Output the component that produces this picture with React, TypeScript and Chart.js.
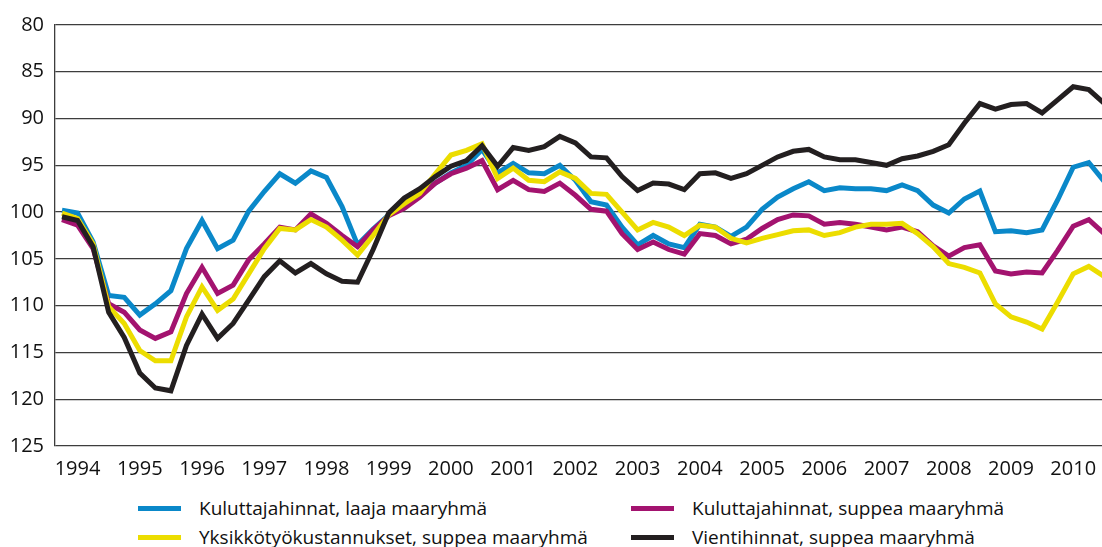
import React, { useEffect, useRef } from "react";
import { Chart, registerables } from "chart.js";

Chart.register(...registerables);

// Quarterly observations, 1994 Q1 – 2010 Q4 (index 0 = 1994 Q1)
const yearLabels = [
  "1994", "1995", "1996", "1997", "1998", "1999", "2000", "2001", "2002",
  "2003", "2004", "2005", "2006", "2007", "2008", "2009", "2010",
];

const yTicks = [80, 85, 90, 95, 100, 105, 110, 115, 120, 125];

const kuluttajaLaaja = [
  99.8, 100.1, 103.2, 108.9, 109.1, 111.0, 109.8, 108.4,
  103.9, 100.9, 103.9, 103.0, 99.9, 97.8, 95.9, 96.9,
  95.6, 96.3, 99.4, 103.5, 101.8, 100.3, 99.2, 98.2,
  96.9, 95.8, 95.0, 93.3, 95.8, 94.8, 95.8, 95.9,
  95.0, 96.6, 98.9, 99.25, 101.6, 103.5, 102.5, 103.4,
  103.8, 101.3, 101.6, 102.6, 101.6, 99.7, 98.4, 97.5,
  96.75, 97.7, 97.4, 97.5, 97.5, 97.7, 97.1, 97.7,
  99.25, 100.1, 98.6, 97.75, 102.1, 102.0, 102.2, 101.9,
  98.7, 95.2, 94.7, 96.75,
];

const kuluttajaSuppea = [
  100.8, 101.4, 103.9, 109.8, 110.7, 112.6, 113.5, 112.8,
  108.7, 105.9, 108.7, 107.8, 105.1, 103.4, 101.6, 101.9,
  100.2, 101.2, 102.5, 103.7, 101.9, 100.4, 99.6, 98.4,
  96.9, 95.9, 95.3, 94.5, 97.6, 96.6, 97.6, 97.8,
  96.9, 98.2, 99.7, 99.9, 102.3, 104.0, 103.2, 104.0,
  104.5, 102.3, 102.5, 103.4, 102.9, 101.75, 100.8, 100.3,
  100.4, 101.3, 101.1, 101.3, 101.6, 101.9, 101.6, 102.1,
  103.6, 104.7, 103.8, 103.5, 106.3, 106.6, 106.4, 106.5,
  104.1, 101.5, 100.8, 102.3,
];

const yksikkotyokustannukset = [
  100.1, 100.7, 103.4, 110.1, 111.9, 114.8, 115.9, 115.9,
  111.2, 108.0, 110.5, 109.3, 106.6, 103.9, 101.75, 101.9,
  100.8, 101.6, 103.0, 104.6, 102.5, 100.3, 99.1, 98.0,
  95.9, 93.9, 93.4, 92.7, 96.4, 95.3, 96.6, 96.75,
  95.7, 96.4, 98.0, 98.1, 100.0, 101.9, 101.1, 101.6,
  102.5, 101.4, 101.6, 102.8, 103.3, 102.8, 102.4, 102.0,
  101.9, 102.5, 102.2, 101.6, 101.3, 101.3, 101.2, 102.3,
  103.7, 105.5, 105.9, 106.5, 109.8, 111.2, 111.75, 112.5,
  109.6, 106.6, 105.8, 106.9,
];

const vientihinnat = [
  100.5, 100.9, 103.7, 110.7, 113.4, 117.2, 118.8, 119.1,
  114.25, 110.9, 113.5, 111.9, 109.4, 106.9, 105.2, 106.5,
  105.5, 106.6, 107.4, 107.5, 104.0, 100.1, 98.5, 97.5,
  96.2, 95.1, 94.5, 92.9, 95.1, 93.1, 93.4, 93.0,
  91.9, 92.6, 94.1, 94.2, 96.2, 97.7, 96.9, 97.0,
  97.6, 95.9, 95.8, 96.4, 95.9, 95.0, 94.1, 93.5,
  93.3, 94.1, 94.4, 94.4, 94.7, 95.0, 94.3, 94.0,
  93.5, 92.8, 90.5, 88.4, 89.0, 88.5, 88.4, 89.4,
  88.0, 86.6, 86.9, 88.4,
];

const seriesNames = [
  "Kuluttajahinnat, laaja maaryhmä",
  "Kuluttajahinnat, suppea maaryhmä",
  "Yksikkötyökustannukset, suppea maaryhmä",
  "Vientihinnat, suppea maaryhmä",
];

const BLUE = "#0a88c9";
const MAGENTA = "#a3136f";
const YELLOW = "#ecdd00";
const BLACK = "#231f20";
const GRID = "#3d3d3d";
const FONT = "'Open Sans', 'Liberation Sans', sans-serif";

const toPoints = (arr: number[]) => arr.map((v, i) => ({ x: i, y: v }));

export default function App() {
  const canvasRef = useRef<HTMLCanvasElement | null>(null);

  useEffect(() => {
    if (!canvasRef.current) return;
    const mk = (label: string, data: number[], color: string) => ({
      label,
      data: toPoints(data),
      borderColor: color,
      backgroundColor: color,
      borderWidth: 5,
      pointRadius: 0,
      tension: 0,
      fill: false,
    });
    const chart = new Chart(canvasRef.current, {
      type: "line",
      data: {
        datasets: [
          mk(seriesNames[3], vientihinnat, BLACK),
          mk(seriesNames[2], yksikkotyokustannukset, YELLOW),
          mk(seriesNames[1], kuluttajaSuppea, MAGENTA),
          mk(seriesNames[0], kuluttajaLaaja, BLUE),
        ],
      },
      options: {
        animation: false,
        responsive: false,
        layout: { padding: { top: 25, left: 0, right: 0, bottom: 0 } },
        plugins: { legend: { display: false }, tooltip: { enabled: false } },
        scales: {
          x: {
            type: "linear",
            min: -0.45,
            max: 66.85,
            grid: { display: false },
            border: { display: false },
            afterBuildTicks: (scale: any) => {
              scale.ticks = yearLabels.map((_, k) => ({ value: 1 + 4 * k }));
            },
            afterFit: (scale: any) => {
              scale.height = 34;
            },
            ticks: {
              autoSkip: false,
              maxRotation: 0,
              padding: 3,
              color: "#111",
              font: { family: FONT, size: 20 },
              callback: (v: any) => yearLabels[Math.round((Number(v) - 1) / 4)] ?? "",
            },
          },
          y: {
            type: "linear",
            reverse: true,
            min: 80,
            max: 125,
            afterBuildTicks: (scale: any) => {
              scale.ticks = yTicks.map((v) => ({ value: v }));
            },
            afterFit: (scale: any) => {
              scale.width = 55;
            },
            grid: { color: GRID, lineWidth: 1.3, drawTicks: false },
            border: { display: true, color: GRID, width: 1.3 },
            ticks: {
              padding: 11,
              color: "#111",
              font: { family: FONT, size: 20 },
            },
          },
        },
      },
    });
    return () => chart.destroy();
  }, []);

  const legendItems = [
    { name: seriesNames[0], color: BLUE, left: 138, top: 508 },
    { name: seriesNames[1], color: MAGENTA, left: 631, top: 508 },
    { name: seriesNames[2], color: YELLOW, left: 138, top: 537 },
    { name: seriesNames[3], color: BLACK, left: 631, top: 537 },
  ];

  return (
    <div style={{ position: "absolute", left: 0, top: 0, width: 1102, height: 547, background: "#fff" }}>
      <canvas ref={canvasRef} width={1102} height={480} style={{ display: "block" }} />
      {legendItems.map((it) => (
        <div
          key={it.name}
          style={{
            position: "absolute",
            left: it.left,
            top: it.top - 14,
            height: 28,
            display: "flex",
            alignItems: "center",
            fontFamily: FONT,
            fontSize: 19,
            color: "#111",
            whiteSpace: "nowrap",
          }}
        >
          <span style={{ display: "inline-block", width: 43, height: 5, background: it.color, marginRight: 18 }} />
          <span>{it.name}</span>
        </div>
      ))}
    </div>
  );
}
